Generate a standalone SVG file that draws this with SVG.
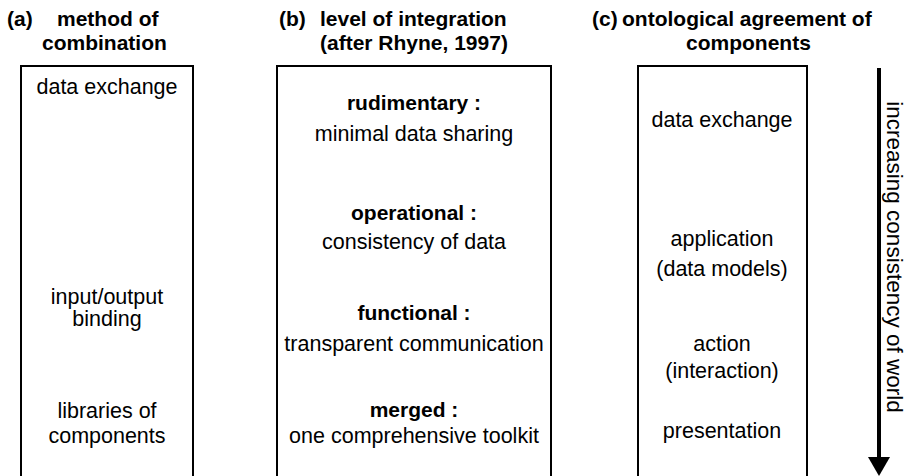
<svg xmlns="http://www.w3.org/2000/svg" width="912" height="476" viewBox="0 0 912 476">
<style>
text{font-family:"Liberation Sans",Arial,sans-serif;font-size:21.5px;fill:#000}
.t{font-weight:bold;font-size:21px}
.c{text-anchor:middle}
.b{font-weight:bold;text-anchor:middle;font-size:21px}
.box{fill:none;stroke:#000;stroke-width:2}
</style>
<rect width="912" height="476" fill="#fff"/>
<g id="titles">
<text class="t" x="7" y="26">(a)</text>
<text class="t" x="57" y="26">method of</text>
<text class="t" x="42" y="50">combination</text>
<text class="t" x="279" y="26">(b)</text>
<text class="t" x="320" y="26">level of integration</text>
<text class="t" x="320" y="50">(after Rhyne, 1997)</text>
<text class="t" x="592" y="26">(c)</text>
<text class="t" x="622" y="26">ontological agreement of</text>
<text class="t" x="686" y="50">components</text>
</g>
<g id="boxA">
<path class="box" d="M21,480 V66 H193 V480"/>
<text class="c" x="107" y="94">data exchange</text>
<text class="c" x="107" y="304">input/output</text>
<text class="c" x="107" y="326">binding</text>
<text class="c" x="107" y="418">libraries of</text>
<text class="c" x="107" y="443">components</text>
</g>
<g id="boxB">
<path class="box" d="M277,480 V66 H551 V480"/>
<text class="b" x="414" y="110">rudimentary :</text>
<text class="c" x="414" y="141">minimal data sharing</text>
<text class="b" x="414" y="220">operational :</text>
<text class="c" x="414" y="249">consistency of data</text>
<text class="b" x="414" y="320">functional :</text>
<text class="c" x="414" y="351">transparent communication</text>
<text class="b" x="414" y="417">merged :</text>
<text class="c" x="414" y="443">one comprehensive toolkit</text>
</g>
<g id="boxC">
<path class="box" d="M638,480 V66 H807 V480"/>
<text class="c" x="722" y="127">data exchange</text>
<text class="c" x="722" y="246">application</text>
<text class="c" x="722" y="276">(data models)</text>
<text class="c" x="722" y="351">action</text>
<text class="c" x="722" y="378">(interaction)</text>
<text class="c" x="722" y="438">presentation</text>
</g>
<g id="connectors">
<line x1="879" y1="68" x2="879" y2="458" stroke="#000" stroke-width="4"/>
<polygon points="868,457 890,457 879,476" fill="#000"/>
<text class="c" transform="translate(887,257) rotate(90)" x="0" y="0" style="font-size:22.5px">increasing consistency of world</text>
</g>
</svg>
